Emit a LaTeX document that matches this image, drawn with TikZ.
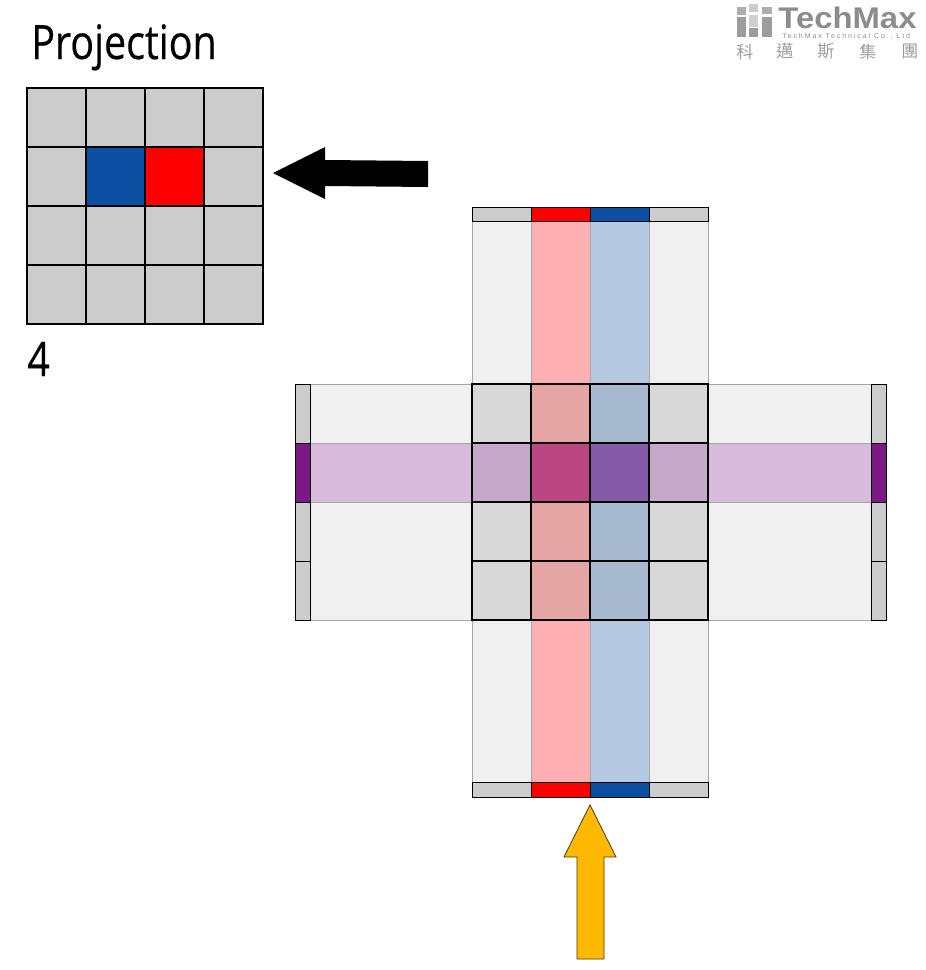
\documentclass[tikz,border=0pt]{standalone}
\usepackage{fontspec}
\usepackage{xcolor}
\setmainfont[FakeStretch=0.83,FakeBold=0.4]{Open Sans}
\newfontfamily\logofont[FakeStretch=1.1]{Liberation Sans}
\newfontfamily\logosubfont[LetterSpace=27]{Liberation Sans}
\newfontfamily\cjkfont{Noto Sans CJK TC}
\definecolor{cellgray}{HTML}{CCCCCC}
\definecolor{projblue}{HTML}{0B4FA3}
\definecolor{projred}{HTML}{FF0000}
\definecolor{barpurple}{HTML}{7B1A85}
\definecolor{bandgray}{HTML}{F0F0F0}
\definecolor{bandred}{HTML}{FFB0B2}
\definecolor{bandblue}{HTML}{B5C9E3}
\definecolor{bandpurple}{HTML}{D9BBDD}
\definecolor{midgray}{HTML}{D8D8D8}
\definecolor{midred}{HTML}{E5A5A5}
\definecolor{midblue}{HTML}{A8BAD0}
\definecolor{midpurple}{HTML}{C4A8C8}
\definecolor{hotred}{HTML}{BC4682}
\definecolor{hotblue}{HTML}{855BA8}
\definecolor{arrowgold}{HTML}{FFB900}
\definecolor{logogray}{HTML}{8C8C8C}
\begin{document}
\begin{tikzpicture}[
    x=0.02cm, y=-0.02cm,
    pcell/.style={rectangle, draw=black, line width=0.6pt, fill=cellgray, minimum size=1.18cm, inner sep=0pt},
    mcell/.style={rectangle, draw=black, line width=1pt, minimum size=1.18cm, inner sep=0pt},
    bar/.style={draw=black, line width=0.55pt},
    band/.style={draw=black!35, line width=0.5pt},
    logotext/.style={anchor=base west, inner sep=0pt, text=logogray}
]
\useasboundingbox (0,0) rectangle (926,970);

% title and grid
\node[anchor=base west, inner sep=0pt, font=\fontsize{27pt}{27pt}\selectfont] (title) at (31,59) {Projection};
\node[anchor=base west, inner sep=0pt, font=\fontsize{27pt}{27pt}\selectfont] (count) at (27,376) {4};
\foreach \r in {0,1,2,3}
  \foreach \c in {0,1,2,3}
    \node[pcell] (proj\r\c) at (56.5+59*\c,117.5+59*\r) {};
\node[pcell, fill=projblue] (projblue) at (115.5,176.5) {};
\node[pcell, fill=projred] (projred) at (174.5,176.5) {};

% bands
\draw[band, fill=bandgray] (472,221) rectangle (708,782);
\draw[band, fill=bandgray] (310,384) rectangle (871,620);
\draw[band, fill=bandred] (531,221) rectangle (590,782);
\draw[band, fill=bandblue] (590,221) rectangle (649,782);
\draw[band, fill=bandpurple] (310,443) rectangle (871,502);

% detector bars
\foreach \c/\col in {472/cellgray,531/projred,590/projblue,649/cellgray} {
  \draw[bar, fill=\col] (\c,207) rectangle (\c+59,221);
  \draw[bar, fill=\col] (\c,782) rectangle (\c+59,797);
}
\foreach \r/\col in {384/cellgray,443/barpurple,502/cellgray,561/cellgray} {
  \draw[bar, fill=\col] (295,\r) rectangle (310,\r+59);
  \draw[bar, fill=\col] (871,\r) rectangle (886,\r+59);
}

% overlap
\foreach \r in {413.5,531.5,590.5} {
  \node[mcell, fill=midgray] at (501.5,\r) {};
  \node[mcell, fill=midred] at (560.5,\r) {};
  \node[mcell, fill=midblue] at (619.5,\r) {};
  \node[mcell, fill=midgray] at (678.5,\r) {};
}
\node[mcell, fill=midpurple] (midl) at (501.5,472.5) {};
\node[mcell, fill=hotred] (hotl) at (560.5,472.5) {};
\node[mcell, fill=hotblue] (hotr) at (619.5,472.5) {};
\node[mcell, fill=midpurple] (midr) at (678.5,472.5) {};

% arrows
\fill[black] (273,173) -- (325,147) -- (325,160) -- (428,161) -- (428,187) -- (325,186) -- (325,199) -- cycle;
\draw[black!70!arrowgold, line width=0.4pt, fill=arrowgold] (590,805) -- (616,857) -- (604,857) -- (604,959) -- (577,959) -- (577,857) -- (564,857) -- cycle;

% logo
\fill[logogray!70] (737,7) rectangle (746,15);
\fill[logogray!45] (749,4) rectangle (758,12);
\fill[logogray!70] (762,7) rectangle (772,14);
\fill[logogray!85] (737,17) rectangle (746,37);
\fill[logogray!40] (749,15) rectangle (758,27);
\fill[logogray!85] (749,28) rectangle (758,37);
\fill[logogray!85] (762,17) rectangle (772,37);
\node[logotext, font=\logofont\bfseries\fontsize{17pt}{17pt}\selectfont] (brand) at (778,29) {TechMax};
\node[logotext, font=\logosubfont\fontsize{4pt}{5pt}\selectfont] (brandsub) at (782,38) {TechMax Technical Co., Ltd};
\foreach \x/\ch in {745/科,785/邁,826/斯,868/集,910/團}
  \node[inner sep=0pt, text=logogray!85, font=\cjkfont\fontsize{9.7pt}{10pt}\selectfont] at (\x,51.5) {\ch};
\end{tikzpicture}
\end{document}
